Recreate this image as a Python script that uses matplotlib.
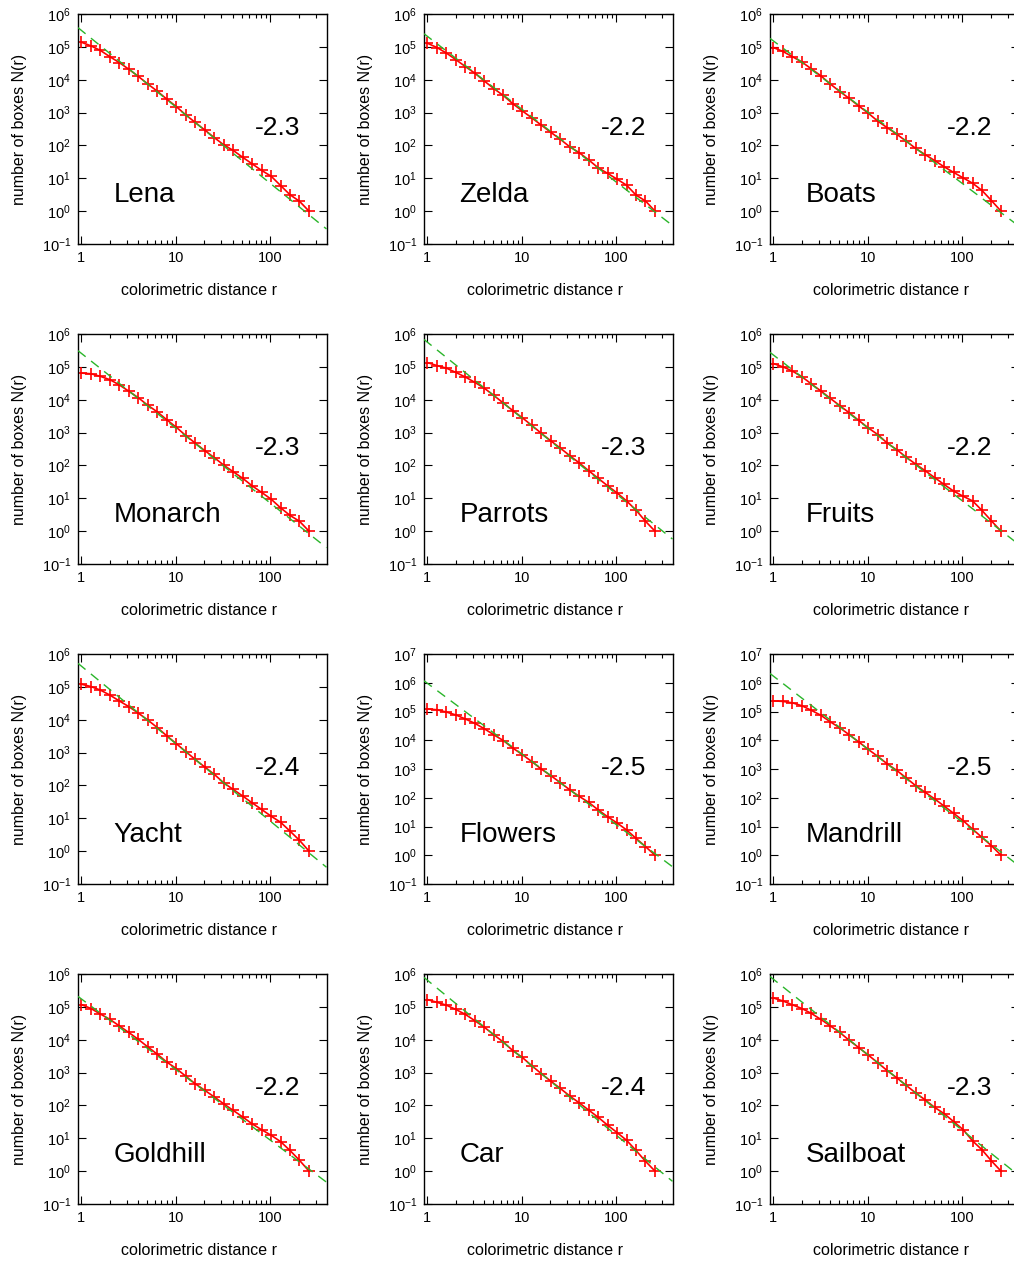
import numpy as np
import matplotlib
matplotlib.use("Agg")
import matplotlib.pyplot as plt
from matplotlib.ticker import FixedLocator, FixedFormatter, LogLocator, NullFormatter

plt.rcParams['font.family'] = ['Liberation Sans', 'DejaVu Sans']
plt.rcParams['mathtext.fontset'] = 'custom'
plt.rcParams['mathtext.rm'] = 'Liberation Sans'
plt.rcParams['mathtext.it'] = 'Liberation Sans'
plt.rcParams['mathtext.bf'] = 'Liberation Sans'
plt.rcParams['axes.unicode_minus'] = False

# colorimetric distance r
r = [1, 1.26, 1.59, 2, 2.52, 3.17, 4, 5.04, 6.35, 8, 10.1, 12.7, 16, 20.2,
     25.4, 32, 40.3, 50.8, 64, 80.6, 102, 128, 161, 203, 256]

names = ["Lena", "Zelda", "Boats", "Monarch", "Parrots", "Fruits",
         "Yacht", "Flowers", "Mandrill", "Goldhill", "Car", "Sailboat"]
slope_labels = ["-2.3", "-2.2", "-2.2", "-2.3", "-2.3", "-2.2",
                "-2.4", "-2.5", "-2.5", "-2.2", "-2.4", "-2.3"]

# log10 N(r)
lena = [5.14, 5.03, 4.89, 4.70, 4.52, 4.32, 4.10, 3.87, 3.65, 3.41, 3.18, 2.93, 2.70,
        2.47, 2.24, 2.02, 1.85, 1.64, 1.44, 1.24, 1.06, 0.78, 0.50, 0.30, 0.0]
zelda = [5.11, 4.98, 4.81, 4.61, 4.40, 4.20, 3.96, 3.73, 3.52, 3.27, 3.05, 2.84, 2.62,
         2.40, 2.19, 1.96, 1.78, 1.56, 1.32, 1.15, 0.97, 0.79, 0.49, 0.31, 0.0]
boats = [4.98, 4.86, 4.70, 4.54, 4.33, 4.12, 3.87, 3.64, 3.43, 3.20, 2.98, 2.74, 2.54,
         2.34, 2.13, 1.91, 1.72, 1.54, 1.35, 1.18, 1.01, 0.85, 0.63, 0.32, 0.0]
monarch = [4.81, 4.79, 4.71, 4.61, 4.45, 4.26, 4.06, 3.83, 3.63, 3.39, 3.16, 2.91, 2.68,
           2.45, 2.24, 2.01, 1.81, 1.61, 1.38, 1.18, 0.97, 0.71, 0.48, 0.30, 0.0]
parrots = [5.13, 5.04, 4.96, 4.83, 4.69, 4.53, 4.35, 4.13, 3.90, 3.67, 3.45, 3.22, 2.98,
           2.75, 2.53, 2.30, 2.08, 1.84, 1.61, 1.38, 1.16, 0.92, 0.64, 0.30, 0.0]
fruits = [5.10, 5.00, 4.87, 4.70, 4.48, 4.27, 4.04, 3.82, 3.60, 3.37, 3.14, 2.94, 2.68,
          2.48, 2.25, 2.04, 1.84, 1.63, 1.42, 1.22, 1.06, 0.92, 0.63, 0.31, 0.0]
yacht = [5.08, 5.01, 4.90, 4.75, 4.57, 4.40, 4.20, 3.99, 3.76, 3.51, 3.27, 3.03, 2.79,
         2.56, 2.34, 2.08, 1.88, 1.68, 1.47, 1.27, 1.06, 0.88, 0.61, 0.33, 0.0]
flowers = [5.09, 5.06, 4.98, 4.88, 4.74, 4.59, 4.40, 4.19, 3.99, 3.73, 3.50, 3.26, 3.00,
           2.77, 2.53, 2.28, 2.05, 1.84, 1.58, 1.34, 1.12, 0.88, 0.59, 0.30, 0.0]
mandrill = [5.37, 5.35, 5.30, 5.20, 5.04, 4.87, 4.64, 4.43, 4.19, 3.94, 3.68, 3.44, 3.18,
            2.95, 2.69, 2.42, 2.19, 1.96, 1.71, 1.46, 1.20, 0.91, 0.62, 0.33, 0.0]
goldhill = [5.07, 4.95, 4.78, 4.62, 4.42, 4.22, 4.01, 3.78, 3.56, 3.32, 3.12, 2.89, 2.66,
            2.46, 2.26, 2.05, 1.85, 1.65, 1.44, 1.26, 1.09, 0.90, 0.63, 0.33, 0.0]
car = [5.22, 5.14, 5.05, 4.92, 4.77, 4.58, 4.38, 4.15, 3.93, 3.67, 3.46, 3.21, 2.97,
       2.74, 2.52, 2.29, 2.08, 1.86, 1.64, 1.40, 1.17, 0.94, 0.63, 0.30, 0.0]
sailboat = [5.27, 5.18, 5.06, 4.95, 4.80, 4.62, 4.42, 4.22, 3.98, 3.76, 3.53, 3.30, 3.06,
            2.84, 2.61, 2.38, 2.17, 1.94, 1.75, 1.51, 1.26, 0.92, 0.65, 0.31, 0.0]

# power-law fit: log10 N = fit_b + fit_slope * log10 r
fit_slope = [-2.33, -2.22, -2.17, -2.28, -2.31, -2.22, -2.36, -2.46, -2.54, -2.15, -2.36, -2.30]
fit_b = [5.50, 5.32, 5.18, 5.41, 5.75, 5.36, 5.63, 5.98, 6.23, 5.24, 5.81, 5.84]

ytop_exp = [6, 6, 6, 6, 6, 6, 6, 7, 7, 6, 6, 6]

series = [lena, zelda, boats, monarch, parrots, fruits,
          yacht, flowers, mandrill, goldhill, car, sailboat]

W, H = 1014, 1263
fig = plt.figure(figsize=(W / 100, H / 100), dpi=100)

ax_w, ax_h = 248.5, 230.0
for i, name in enumerate(names):
    row, col = divmod(i, 3)
    left = 78 + col * 346
    top = 14 + row * 320
    ax = fig.add_axes([left / W, 1 - (top + ax_h) / H, ax_w / W, ax_h / H])
    ax.set_xscale('log')
    ax.set_yscale('log')
    ax.set_xlim(0.92, 392)
    ax.set_ylim(0.1, 10.0 ** ytop_exp[i])

    N = 10.0 ** np.array(series[i])
    ax.plot(r, N, color='red', lw=1.2, marker='+', ms=8, mew=1.2, zorder=2)

    xl = np.array(ax.get_xlim())
    yf = 10.0 ** (fit_b[i] + fit_slope[i] * np.log10(xl))
    ax.plot(xl, yf, color='#2ab52a', lw=1.0, ls=(0, (7, 5)), zorder=3)

    ax.text(0.142, 0.212, name, transform=ax.transAxes, fontsize=20,
            va='center', ha='left')
    ax.text(0.71, 0.505, slope_labels[i], transform=ax.transAxes, fontsize=19,
            va='center', ha='left')

    ax.xaxis.set_major_locator(FixedLocator([1, 10, 100]))
    ax.xaxis.set_major_formatter(FixedFormatter(["1", "10", "100"]))
    ax.xaxis.set_minor_locator(LogLocator(base=10, subs=np.arange(2, 10), numticks=20))
    ax.xaxis.set_minor_formatter(NullFormatter())
    ax.yaxis.set_major_locator(LogLocator(base=10, numticks=20))
    ax.yaxis.set_minor_locator(FixedLocator([]))

    ax.tick_params(which='major', direction='in', length=6, width=0.8,
                   top=True, right=True, labelsize=10.5, pad=5)
    ax.tick_params(which='minor', direction='in', length=3, width=0.8,
                   top=True, right=True)
    for sp in ax.spines.values():
        sp.set_linewidth(1.0)

    ax.set_xlabel("colorimetric distance r", fontsize=11.5)
    ax.set_ylabel("number of boxes N(r)", fontsize=11.5)
    ax.xaxis.set_label_coords(0.486, -39 / ax_h)
    ax.yaxis.set_label_coords(-51 / ax_w, 0.5)

fig.savefig("out.png", dpi=100)
